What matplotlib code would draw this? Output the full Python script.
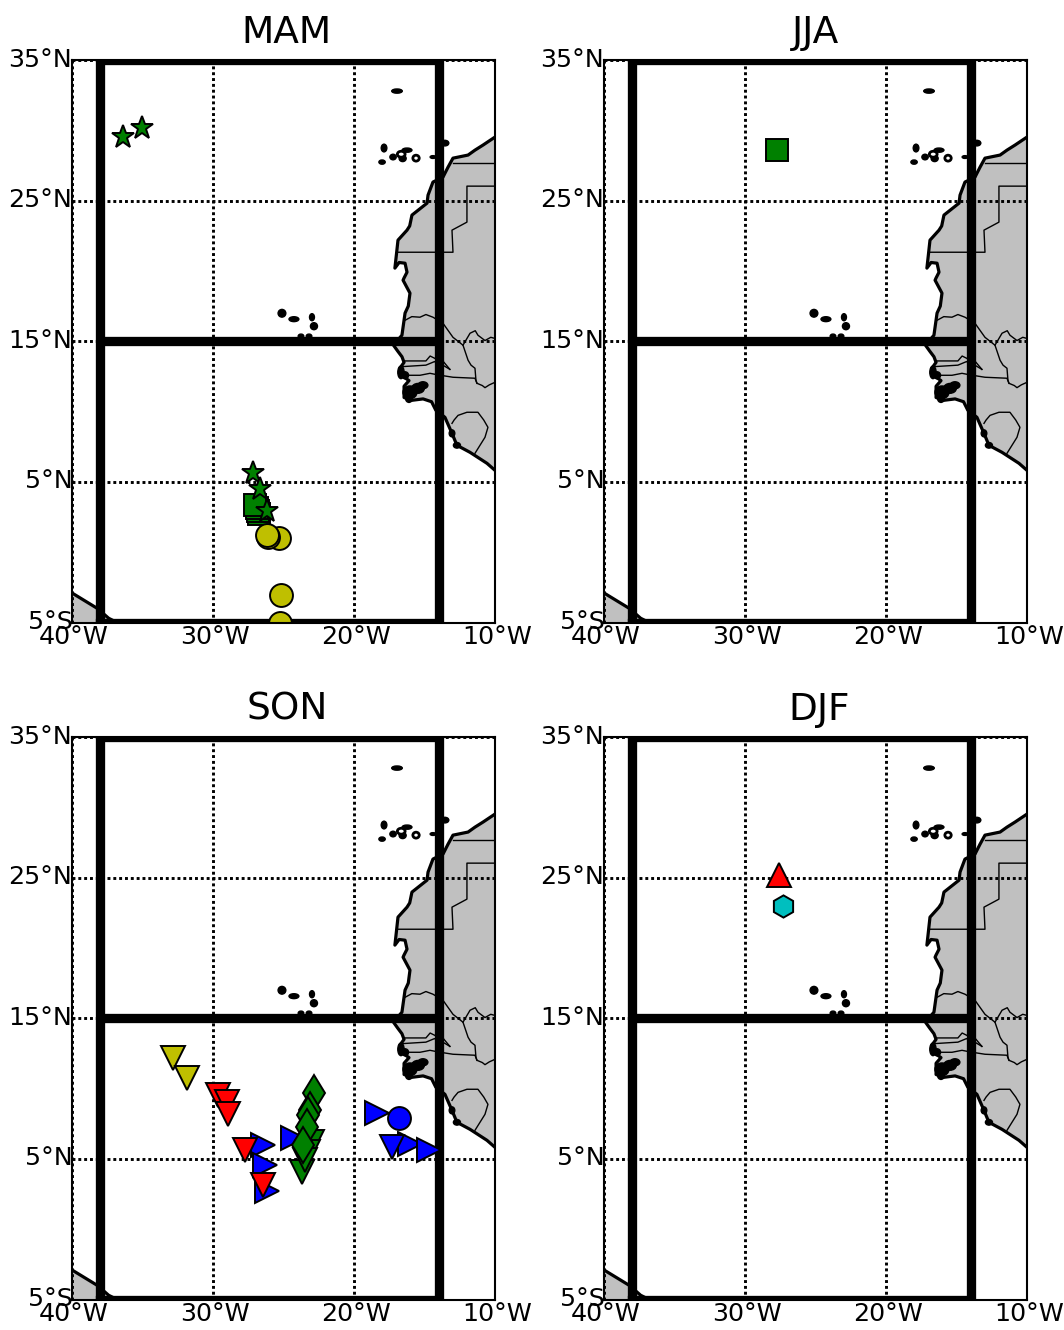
import matplotlib
matplotlib.use('Agg')
import matplotlib.pyplot as plt
from matplotlib.patches import Polygon, Ellipse
from matplotlib.transforms import ScaledTranslation

# ---- data (lon, lat) ----
coast_lon = [-10.0,-10.85,-11.42,-11.91,-12.98,-13.33,-13.69,-14.40,-14.75,-14.82,-15.89,-16.05,-16.24,-16.88,-17.02,-17.1,-16.8,-16.38,-16.24,-16.45,-16.52,-16.03,-16.15,-16.38,-16.60,-17.2,-16.9,-16.6,-16.45,-16.75,-16.52,-16.1,-16.45,-16.45,-15.9,-15.1,-14.5,-14.2,-13.55,-13.05,-12.70,-11.77,-10.57,-10.0]
coast_lat = [29.52,28.95,28.59,28.24,28.02,27.38,26.67,26.32,25.39,24.82,23.97,23.2,22.90,22.19,20.91,20.2,20.6,20.55,19.91,19.5,19.34,18.42,17.5,17.0,15.43,14.72,14.3,13.9,13.5,13.08,12.5,12.2,11.8,11.0,10.8,10.9,10.7,10.1,9.59,8.45,7.60,7.10,6.32,5.82]
sa_lon = [-40.0,-38.2,-37.4,-36.8]
sa_lat = [-2.9,-4.0,-4.7,-5.0]

borders = [
    ([-13.0,-10.0],[27.67,27.67]),
    ([-10.0,-11.99,-11.99,-13.05,-12.98,-16.95],[26.03,26.03,23.47,22.9,21.33,21.33]),
    ([-16.38,-15.9,-15.32,-14.9,-14.40,-13.69,-12.98,-12.27,-11.91,-11.7,-11.42,-11.35,-11.28],[16.49,16.75,16.71,16.9,16.71,16.28,15.28,14.72,13.65,13.3,13.08,12.22,12.01]),
    ([-12.27,-11.77,-11.4,-11.21,-10.71,-10.3,-10.0],[14.72,15.57,15.75,15.43,15.05,15.28,15.2]),
    ([-16.5,-14.9,-14.6,-14.2,-13.7,-13.2],[13.6,13.6,13.95,13.75,13.6,13.0]),
    ([-16.5,-14.9,-14.3,-13.7,-13.2],[13.2,13.3,13.55,13.3,13.0]),
    ([-16.52,-15.32,-14.61,-14.0,-12.98,-11.42,-11.28,-10.9,-10.71,-10.4,-10.0],[12.58,12.58,12.72,12.6,12.44,12.37,12.01,11.85,11.7,11.9,12.08]),
    ([-13.05,-12.9,-12.62,-11.99,-11.21,-10.8,-10.5,-10.71,-11.42],[9.16,9.4,9.73,9.95,9.95,9.4,8.88,8.17,7.03]),
]
isl_lon = [-16.95,-17.87,-18.01,-17.23,-16.55,-16.24,-14.4,-13.55,-25.11,-24.26,-22.98,-22.84,-23.76,-23.19,-16.67,-16.38,-15.11,-15.46,-16.03,-16.1,-13.05,-12.7]
isl_lat = [32.79,28.74,27.74,28.10,28.0,28.59,28.10,29.09,16.99,16.57,16.71,16.07,15.36,15.36,12.79,12.58,11.87,11.65,11.37,10.95,8.45,7.6]
isl_w   = [0.75,0.4,0.45,0.45,0.5,0.7,0.4,0.55,0.55,0.7,0.35,0.5,0.4,0.4,0.45,0.5,0.7,0.9,1.0,0.5,0.4,0.5]
isl_h   = [0.3,0.55,0.3,0.4,0.45,0.3,0.2,0.4,0.55,0.35,0.5,0.5,0.3,0.3,0.9,0.5,0.5,0.7,0.9,0.6,0.5,0.4]
ring_lon = [-15.6,-16.65]
ring_lat = [28.02,28.3]
ring_w = [0.45,0.55]
ring_h = [0.42,0.42]

MAM = [
    ('g','s',[-26.74,-26.81,-26.88,-27.02],[2.69,2.90,3.11,3.33]),
    ('y','o',[-25.32,-26.10,-26.17,-25.18,-25.25],[0.98,1.05,1.19,-3.01,-5.0]),
    ('g','*',[-36.38,-35.04,-27.16,-26.67,-26.17],[29.52,30.16,5.60,4.47,2.90]),
]
JJA = [('g','s',[-27.73],[28.59])]
SON = [
    ('y','v',[-32.84,-31.84],[12.15,10.73]),
    ('b','>',[-26.45,-26.31,-26.17,-24.33,-18.37,-16.03,-14.68],[5.96,4.54,2.69,6.46,8.24,6.03,5.60]),
    ('b','v',[-17.30],[5.82]),
    ('b','o',[-16.81],[7.88]),
    ('r','v',[-29.65,-29.01,-28.94,-27.73,-26.45],[9.52,9.02,8.17,5.60,3.11]),
    ('g','v',[-23.69,-22.98,-23.26,-23.48],[4.04,6.17,5.46,4.89]),
    ('g','d',[-22.84,-23.12,-23.26,-23.33,-23.62],[9.66,8.45,8.10,7.24,5.96]),
]
DJF = [
    ('r','^',[-27.59],[25.18]),
    ('c','h',[-27.30],[22.97]),
]
titles = ['MAM','JJA','SON','DJF']
panels = [MAM,JJA,SON,DJF]
lon_ticks = [-40,-30,-20,-10]
lon_labels = ['40°W','30°W','20°W','10°W']
lat_ticks = [-5,5,15,25,35]
lat_labels = ['5°S','5°N','15°N','25°N','35°N']
title_x = [0.508,0.5,0.508,0.509]
box_lon = [-38,-38,-14,-14,-38]
box_lat = [-5,35,35,-5,-5]
mid_lon = [-38,-14]
mid_lat = [15,15]
marker_size = {'s':16.5,'o':16.5,'*':17,'v':17,'>':17,'^':17,'d':18,'h':16}

W,H = 1064,1330
fig = plt.figure(figsize=(W/100,H/100),dpi=100)
plt.rcParams['font.family'] = 'DejaVu Sans'
pos = [(72,60),(604,60),(72,737),(604,737)]
dots = (0,(1,1))
for i,(px,py) in enumerate(pos):
    ax = fig.add_axes([px/W,1-(py+562.5)/H,423/W,562.5/H])
    ax.set_xlim(-40,-10); ax.set_ylim(-5,35)
    ax.add_patch(Polygon(list(zip(coast_lon,coast_lat))+[(-9,5.82),(-9,29.52)],fc='#c0c0c0',ec='none',zorder=1))
    ax.add_patch(Polygon(list(zip(sa_lon,sa_lat))+[(-36.8,-6),(-41,-6),(-41,-2.9)],fc='#c0c0c0',ec='none',zorder=1))
    for bx,by in borders:
        ax.plot(bx,by,color='k',lw=1.0,zorder=2)
    ax.plot(coast_lon,coast_lat,color='k',lw=2.3,zorder=2.1)
    ax.plot(sa_lon,sa_lat,color='k',lw=2.3,zorder=2.1)
    for a,b,w,h in zip(isl_lon,isl_lat,isl_w,isl_h):
        ax.add_patch(Ellipse((a,b),w,h,fc='k',ec='k',lw=1,zorder=2.1))
    for a,b,w,h in zip(ring_lon,ring_lat,ring_w,ring_h):
        ax.add_patch(Ellipse((a,b),w,h,fc='w',ec='k',lw=2,zorder=2.1))
    for t in lon_ticks:
        ax.axvline(t,color='k',lw=2.1,ls=dots,zorder=3)
    for t in lat_ticks:
        ax.axhline(t,color='k',lw=2.1,ls=dots,zorder=3)
    ax.plot(box_lon,box_lat,color='k',lw=6.7,zorder=4,solid_joinstyle='miter')
    ax.plot(mid_lon,mid_lat,color='k',lw=6.7,zorder=4,solid_capstyle='butt')
    for c,m,xs,ys in panels[i]:
        ax.plot(xs,ys,ls='none',marker=m,ms=marker_size[m],mfc=c,mec='k',mew=1.4,zorder=5)
    ax.set_xticks(lon_ticks); ax.set_xticklabels(lon_labels)
    ax.set_yticks(lat_ticks); ax.set_yticklabels(lat_labels)
    ax.tick_params(length=0,labelsize=18.3,pad=1.5)
    ax.tick_params(axis='y',pad=0.5)
    for lab in ax.get_xticklabels():
        lab.set_transform(lab.get_transform()+ScaledTranslation(2/100,0,fig.dpi_scale_trans))
    for lab in ax.get_yticklabels():
        lab.set_transform(lab.get_transform()+ScaledTranslation(1/100,3/100,fig.dpi_scale_trans))
    for s in ax.spines.values():
        s.set_linewidth(1.5); s.set_zorder(6)
    ax.set_title(titles[i],fontsize=27,x=title_x[i],pad=12.3)
fig.savefig('out.png',dpi=100)
